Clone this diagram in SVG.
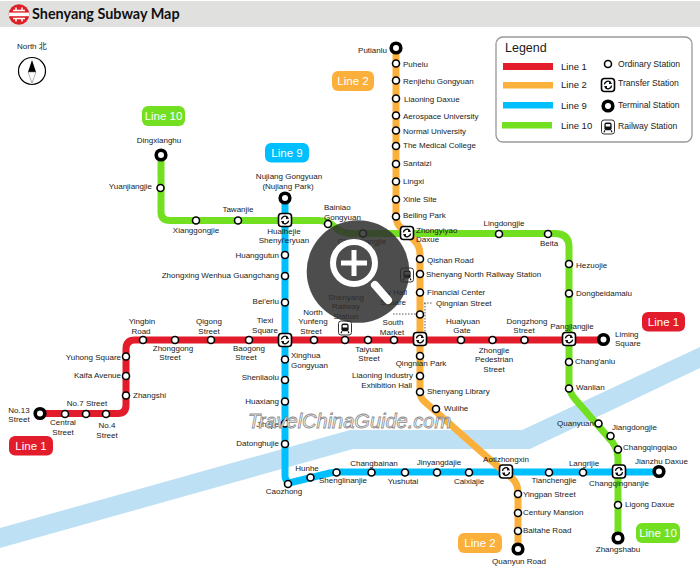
<svg xmlns="http://www.w3.org/2000/svg" width="700" height="572" viewBox="0 0 700 572">
<style>
text{font-family:"Liberation Sans",Arial,sans-serif;font-size:8px;fill:#1a1a1a}
.m{text-anchor:middle}.e{text-anchor:end}
.ln{fill:none;stroke-width:7;stroke-linejoin:round}
.st{fill:#fff;stroke:#000;stroke-width:1.6}
.tm{fill:#fff;stroke:#000;stroke-width:3.6}
.pill{font-size:11.5px;fill:#fff;text-anchor:middle}
.lg{font-size:9.5px}
.k{font-size:8.6px}
.red{stroke:#e21c2a}.org{stroke:#fbb03b}.blu{stroke:#00bfff}.grn{stroke:#72e021}
</style>
<defs>
<g id="xf"><rect x="-6.5" y="-6.5" width="13" height="13" rx="3" fill="#fff" stroke="#000" stroke-width="1.6"/><path d="M-3.6,-0.6A3.6,3.6 0 0 1 2.8,-2.4M3.6,0.6A3.6,3.6 0 0 1 -2.8,2.4" fill="none" stroke="#000" stroke-width="1.3"/><path d="M1.4,-4.2L4.2,-1.2L1,-0.9ZM-1.4,4.2L-4.2,1.2L-1,0.9Z" fill="#000"/></g>
<g id="rw"><rect x="-6.5" y="-7" width="13" height="14" rx="2.5" fill="#fff" stroke="#333" stroke-width="1"/><rect x="-3.6" y="-4.6" width="7.2" height="7.8" rx="2" fill="#111"/><rect x="-2.3" y="-2.9" width="4.6" height="2.4" fill="#fff"/><path d="M-3,3.2L-4,5.2M3,3.2L4,5.2" stroke="#111" stroke-width="1.2"/></g>
</defs>
<rect width="700" height="572" fill="#fff"/>
<rect id="header" y="1" width="700" height="26" fill="#e0e0de"/>
<g id="logo"><circle cx="19" cy="14.5" r="10.3" fill="#dd1f26"/><rect x="9" y="12.6" width="20" height="3.6" fill="#fff"/><path d="M13,10.5H25M16,7.5V11M22,7.5V11M13,18.5H25M16,18V21.5M22,18V21.5" stroke="#fff" stroke-width="1.5" fill="none"/></g>
<text id="title" x="32" y="19" style="font-family:Lato,'Liberation Sans',sans-serif;font-weight:700;font-size:14.4px;fill:#111">Shenyang Subway Map</text>
<text id="north" x="17" y="49" style="font-family:'Liberation Sans','Noto Sans CJK SC',sans-serif">North 北</text>
<g id="compass"><circle cx="32" cy="71" r="13.500" fill="#fff" stroke="#000" stroke-width="1.200"/><path d="M32,60L36,72H28Z" fill="#000"/><path d="M28,72H36L32,83Z" fill="#fff" stroke="#777" stroke-width=".6"/></g>
<polygon id="river" points="0,528 350,430 522,430 700,347 700,368 530,449 353,449 0,548" fill="#bde0f5"/>
<g id="connectors">
<path id="line9" class="ln blu" d="M285,198V475Q285,484 293,482L330,473Q334,472 340,472H659"/>
<path id="line10" class="ln grn" d="M161,155V212Q161,220.500 170,220.500H318Q328,220.500 335,227Q341,233.500 352,233.500H555Q569,233.500 569,247V385Q569,392 575,399L608,437Q618,447 618,458V538"/>
<path id="line2" class="ln org" d="M396,48V216Q396,224 402,229L414,240Q420,246 420,254V392Q420,398 425,402L495,464Q506,473 512,478Q518,484 518,492V549"/>
<path id="line1" class="ln red" d="M40,413.500H118Q126,413.500 126,405V349Q126,340 135,340H603"/>
<path d="M424,303H433M425,303V335M393,314H417" fill="none" stroke="#444" stroke-width=".9" stroke-dasharray="1.500 1.500"/>
</g>
<g id="line-labels">
<g id="pill-2a"><rect x="332" y="71" width="42" height="20" rx="6" fill="#fbb03b"/><text class="pill" x="353" y="85">Line 2</text></g>
<g id="pill-10a"><rect x="142" y="106" width="43" height="20" rx="6" fill="#72e021"/><text class="pill" x="163.500" y="120">Line 10</text></g>
<g id="pill-9"><rect x="265" y="143" width="44" height="19.500" rx="6" fill="#00bfff"/><text class="pill" x="287" y="157">Line 9</text></g>
<g id="pill-1a"><rect x="642" y="312" width="43" height="19.500" rx="6" fill="#e21c2a"/><text class="pill" x="663.500" y="326">Line 1</text></g>
<g id="pill-1b"><rect x="9" y="436" width="44" height="19.500" rx="6" fill="#e21c2a"/><text class="pill" x="31" y="450">Line 1</text></g>
<g id="pill-2b"><rect x="458" y="533" width="44" height="20" rx="6" fill="#fbb03b"/><text class="pill" x="480" y="547">Line 2</text></g>
<g id="pill-10b"><rect x="636" y="523" width="44" height="20" rx="6" fill="#72e021"/><text class="pill" x="658" y="537">Line 10</text></g>
</g>
<g id="legend">
<rect x="496" y="37" width="196" height="105" rx="7" fill="#fff" stroke="#999" stroke-width="1.300"/>
<text x="505" y="52" style="font-size:12.500px">Legend</text>
<rect x="503" y="63" width="50" height="7" fill="#e21c2a"/><text class="lg" x="561" y="70">Line 1</text>
<rect x="503" y="82" width="50" height="6.500" fill="#fbb03b"/><text class="lg" x="561" y="88">Line 2</text>
<rect x="503" y="102" width="50" height="6.500" fill="#00bfff"/><text class="lg" x="561" y="109">Line 9</text>
<rect x="502" y="122" width="50" height="6.500" fill="#72e021"/><text class="lg" x="561" y="129">Line 10</text>
<circle class="st" cx="608" cy="64" r="3.500"/><text class="k" x="618" y="67">Ordinary Station</text>
<use href="#xf" x="608" y="85"/><text class="k" x="618" y="86">Transfer Station</text>
<circle class="tm" cx="608" cy="106" r="4.800"/><text class="k" x="618" y="108">Terminal Station</text>
<use href="#rw" x="608" y="127"/><text class="k" x="618" y="129">Railway Station</text>
</g>
<g id="stations">
<g id="s-dingxianghu"><circle class="tm" cx="161" cy="155" r="4.800"/><text class="m" x="159" y="143">Dingxianghu</text></g>
<g id="s-yuanjiangjie"><circle class="st" cx="160.500" cy="188" r="3.500"/><text class="e" x="152" y="189">Yuanjiangjie</text></g>
<g id="s-xianggongjie"><circle class="st" cx="196" cy="220.500" r="3.500"/><text class="m" x="196" y="233">Xianggongjie</text></g>
<g id="s-tawanjie"><circle class="st" cx="238" cy="220.500" r="3.500"/><text class="m" x="238" y="212">Tawanjie</text></g>
<g id="s-nujiang"><circle class="tm" cx="285" cy="198" r="4.800"/><text class="m" x="289" y="179">Nujiang Gongyuan</text><text class="m" x="288" y="189">(Nujiang Park)</text></g>
<g id="s-bainiao"><circle class="st" cx="328" cy="224" r="3.500"/><text x="324" y="210">Bainiao</text><text x="324" y="220">Gongyuan</text></g>
<g id="s-changjiangjie"><circle class="st" cx="363" cy="233.500" r="3.500"/><text class="m" x="362" y="244">Changjiangjie</text></g>
<g id="s-lingdongjie"><circle class="st" cx="499" cy="234" r="3.500"/><text class="m" x="504" y="226">Lingdongjie</text></g>
<g id="s-beita"><circle class="st" cx="548" cy="234" r="3.500"/><text class="m" x="549" y="246">Beita</text></g>
<g id="s-hezuojie"><circle class="st" cx="569" cy="264" r="3.500"/><text x="576" y="268">Hezuojie</text></g>
<g id="s-dongbeidamalu"><circle class="st" cx="569" cy="293.500" r="3.500"/><text x="576" y="296">Dongbeidamalu</text></g>
<g id="s-changanlu"><circle class="st" cx="569" cy="362" r="3.500"/><text x="575" y="364">Chang'anlu</text></g>
<g id="s-wanlian"><circle class="st" cx="569" cy="388.500" r="3.500"/><text x="576" y="390">Wanlian</text></g>
<g id="s-quanyuan"><circle class="st" cx="598.500" cy="423.500" r="3.500"/><text class="e" x="594" y="426">Quanyuan</text></g>
<g id="s-jiangdongjie"><circle class="st" cx="610.500" cy="436" r="3.500"/><text x="612" y="430">Jiangdongjie</text></g>
<g id="s-changqingqiao"><circle class="st" cx="618" cy="449.500" r="3.500"/><text x="623" y="450">Changqingqiao</text></g>
<g id="s-ligong"><circle class="st" cx="618" cy="505" r="3.500"/><text x="625" y="507">Ligong Daxue</text></g>
<g id="s-zhangshabu"><circle class="tm" cx="618" cy="538" r="4.800"/><text class="m" x="618" y="552">Zhangshabu</text></g>
<g id="s-putianlu"><circle class="tm" cx="396" cy="48" r="4.800"/><text class="e" x="387" y="53">Putianlu</text></g>
<g id="s-puhelu"><circle class="st" cx="396" cy="63.500" r="3.500"/><text x="403" y="67">Puhelu</text></g>
<g id="s-renjiehu"><circle class="st" cx="396" cy="80.500" r="3.500"/><text x="403" y="84">Renjiehu Gongyuan</text></g>
<g id="s-liaoningdaxue"><circle class="st" cx="396" cy="98.500" r="3.500"/><text x="404" y="102">Liaoning Daxue</text></g>
<g id="s-aerospace"><circle class="st" cx="396" cy="115.500" r="3.500"/><text x="403" y="119">Aerospace University</text></g>
<g id="s-normal"><circle class="st" cx="396" cy="130.500" r="3.500"/><text x="403" y="134">Normal University</text></g>
<g id="s-medical"><circle class="st" cx="396" cy="146" r="3.500"/><text x="403" y="148">The Medical College</text></g>
<g id="s-santaizi"><circle class="st" cx="396" cy="164" r="3.500"/><text x="403" y="166">Santaizi</text></g>
<g id="s-lingxi"><circle class="st" cx="396" cy="181.500" r="3.500"/><text x="403" y="184">Lingxi</text></g>
<g id="s-xinle"><circle class="st" cx="396" cy="199.500" r="3.500"/><text x="403" y="202">Xinle Site</text></g>
<g id="s-beiling"><circle class="st" cx="396" cy="216.500" r="3.500"/><text x="403" y="218">Beiling Park</text></g>
<g id="s-qishan"><circle class="st" cx="420" cy="259" r="3.500"/><text x="427" y="263">Qishan Road</text></g>
<g id="s-shenyangnorth"><circle class="st" cx="420" cy="274" r="3.500"/><use href="#rw" x="407" y="275"/><text x="426" y="277">Shenyang North Railway Station</text></g>
<g id="s-financial"><circle class="st" cx="420" cy="292.500" r="3.500"/><text x="427" y="295">Financial Center</text></g>
<g id="s-qingnianst"><circle class="st" cx="420" cy="314.500" r="3.500"/><text x="436" y="306">Qingnian Street</text></g>
<g id="s-cityhall"><text class="e" x="407" y="295">City Hall</text><text class="e" x="406" y="305">Square</text></g>
<g id="s-qingnianpark"><circle class="st" cx="420" cy="356" r="3.500"/><text class="m" x="421" y="366">Qingnian Park</text></g>
<g id="s-liaoningind"><circle class="st" cx="420" cy="376" r="3.500"/><text class="e" x="413" y="378">Liaoning Industry</text><text class="e" x="412" y="388">Exhibition Hall</text></g>
<g id="s-library"><circle class="st" cx="420" cy="392" r="3.500"/><text x="427" y="394">Shenyang Library</text></g>
<g id="s-wulihe"><circle class="st" cx="436" cy="409" r="3.500"/><text x="444" y="411">Wulihe</text></g>
<g id="s-yingpan"><circle class="st" cx="518" cy="494" r="3.500"/><text x="523" y="497">Yingpan Street</text></g>
<g id="s-century"><circle class="st" cx="518" cy="513" r="3.500"/><text x="523" y="515">Century Mansion</text></g>
<g id="s-baitahe"><circle class="st" cx="518" cy="531" r="3.500"/><text x="523" y="533">Baitahe Road</text></g>
<g id="s-quanyun"><circle class="tm" cx="518" cy="549" r="4.800"/><text class="m" x="519" y="564">Quanyun Road</text></g>
<g id="s-huanggutun"><circle class="st" cx="285" cy="255" r="3.500"/><text class="e" x="279" y="258">Huanggutun</text></g>
<g id="s-zhongxing"><circle class="st" cx="285" cy="276" r="3.500"/><text class="e" x="279" y="278">Zhongxing Wenhua Guangchang</text></g>
<g id="s-beierlu"><circle class="st" cx="285" cy="302.500" r="3.500"/><text class="e" x="279" y="304">Bei'erlu</text></g>
<g id="s-xinghua"><circle class="st" cx="285" cy="359.500" r="3.500"/><text x="291" y="358">Xinghua</text><text x="291" y="368">Gongyuan</text></g>
<g id="s-shenliaolu"><circle class="st" cx="285" cy="380" r="3.500"/><text class="e" x="279" y="380">Shenliaolu</text></g>
<g id="s-huaxiang"><circle class="st" cx="285" cy="401.500" r="3.500"/><text class="e" x="279" y="404">Huaxiang</text></g>
<g id="s-jihejie"><circle class="st" cx="285" cy="423.500" r="3.500"/><text class="e" x="279" y="427">Jihejie</text></g>
<g id="s-datonghujie"><circle class="st" cx="285" cy="444" r="3.500"/><text class="e" x="279" y="446">Datonghujie</text></g>
<g id="s-caozhong"><circle class="st" cx="288" cy="484" r="3.500"/><text class="m" x="284" y="494">Caozhong</text></g>
<g id="s-hunhe"><circle class="st" cx="310.500" cy="477.500" r="3.500"/><text class="m" x="307" y="471">Hunhe</text></g>
<g id="s-shenglinanjie"><circle class="st" cx="336.500" cy="472.500" r="3.500"/><text x="319" y="483">Shenglinanjie</text></g>
<g id="s-changbainan"><circle class="st" cx="371.500" cy="472.500" r="3.500"/><text class="m" x="374" y="466">Changbainan</text></g>
<g id="s-yushutai"><circle class="st" cx="405" cy="472.500" r="3.500"/><text class="m" x="403" y="484">Yushutai</text></g>
<g id="s-jinyangdajie"><circle class="st" cx="437" cy="472.500" r="3.500"/><text class="m" x="439" y="465">Jinyangdajie</text></g>
<g id="s-caixiajie"><circle class="st" cx="469" cy="472.500" r="3.500"/><text class="m" x="469" y="484">Caixiajie</text></g>
<g id="s-tianchengjie"><circle class="st" cx="549" cy="472.500" r="3.500"/><text class="m" x="554" y="483">Tianchengjie</text></g>
<g id="s-langrijie"><circle class="st" cx="583" cy="472.500" r="3.500"/><text class="m" x="584" y="466">Langrijie</text></g>
<g id="s-jianzhu"><circle class="tm" cx="659" cy="471.500" r="4.800"/><text x="635" y="464">Jianzhu Daxue</text></g>
<g id="s-no13"><circle class="tm" cx="40" cy="413.500" r="4.800"/><text class="m" x="19" y="413">No.13</text><text class="m" x="19" y="422">Street</text></g>
<g id="s-central"><circle class="st" cx="65" cy="414" r="3.500"/><text class="m" x="63" y="425">Central</text><text class="m" x="63" y="435">Street</text></g>
<g id="s-no7"><circle class="st" cx="86" cy="414" r="3.500"/><text class="m" x="87" y="406">No.7 Street</text></g>
<g id="s-no4"><circle class="st" cx="106" cy="414" r="3.500"/><text class="m" x="107" y="428">No.4</text><text class="m" x="107" y="438">Street</text></g>
<g id="s-zhangshi"><circle class="st" cx="126" cy="395.500" r="3.500"/><text x="133" y="398">Zhangshi</text></g>
<g id="s-kaifa"><circle class="st" cx="126" cy="376" r="3.500"/><text class="e" x="121" y="378">Kaifa Avenue</text></g>
<g id="s-yuhong"><circle class="st" cx="126" cy="356.500" r="3.500"/><text class="e" x="121" y="360">Yuhong Square</text></g>
<g id="s-yingbin"><circle class="st" cx="143" cy="340" r="3.500"/><text class="m" x="142" y="324">Yingbin</text><text class="m" x="141" y="334">Road</text></g>
<g id="s-zhonggong"><circle class="st" cx="175" cy="340" r="3.500"/><text class="m" x="173" y="351">Zhonggong</text><text class="m" x="170" y="360">Street</text></g>
<g id="s-qigong"><circle class="st" cx="211" cy="340" r="3.500"/><text class="m" x="209" y="324">Qigong</text><text class="m" x="209" y="334">Street</text></g>
<g id="s-baogong"><circle class="st" cx="249" cy="340" r="3.500"/><text class="m" x="249" y="351">Baogong</text><text class="m" x="246" y="360">Street</text></g>
<g id="s-yunfeng"><circle class="st" cx="314" cy="340" r="3.500"/><text class="m" x="313" y="315">North</text><text class="m" x="313" y="324">Yunfeng</text><text class="m" x="311" y="334">Street</text></g>
<g id="s-railway"><circle class="st" cx="345" cy="340" r="3.500"/><use href="#rw" x="345" y="328"/><text class="m" x="346" y="300">Shenyang</text><text class="m" x="346" y="309">Railway</text><text class="m" x="346" y="319">Station</text></g>
<g id="s-taiyuan"><circle class="st" cx="368" cy="340" r="3.500"/><text class="m" x="369" y="352">Taiyuan</text><text class="m" x="369" y="361">Street</text></g>
<g id="s-south"><circle class="st" cx="394" cy="340" r="3.500"/><text class="m" x="393" y="325">South</text><text class="m" x="392" y="335">Market</text></g>
<g id="s-huaiyuan"><circle class="st" cx="461" cy="340" r="3.500"/><text class="m" x="463" y="324">Huaiyuan</text><text class="m" x="462" y="333">Gate</text></g>
<g id="s-zhongjie"><circle class="st" cx="492.500" cy="340" r="3.500"/><text class="m" x="494" y="353">Zhongjie</text><text class="m" x="494" y="362">Pedestrian</text><text class="m" x="494" y="372">Street</text></g>
<g id="s-dongzhong"><circle class="st" cx="524.500" cy="340" r="3.500"/><text class="m" x="527" y="324">Dongzhong</text><text class="m" x="524" y="333">Street</text></g>
<g id="s-liming"><circle class="tm" cx="603.500" cy="339.500" r="4.800"/><text x="615" y="337">Liming</text><text x="615" y="346">Square</text></g>
<g id="x-huaihejie"><use href="#xf" x="285" y="220"/><text class="m" x="284" y="234">Huaihejie</text><text class="m" x="284" y="243">Shenyi'eryuan</text></g>
<g id="x-tiexi"><use href="#xf" x="285" y="340"/><text class="m" x="265" y="323">Tiexi</text><text class="m" x="265" y="333">Square</text></g>
<g id="x-zhongyiyao"><use href="#xf" x="407" y="233"/><text x="416" y="233">Zhongyiyao</text><text x="416" y="242">Daxue</text></g>
<g id="x-qingnian"><use href="#xf" x="420" y="339"/></g>
<g id="x-pangjiangjie"><use href="#xf" x="569" y="339"/><text class="m" x="572" y="329">Pangjiangjie</text></g>
<g id="x-aoti"><use href="#xf" x="506" y="471.500"/><text class="m" x="506" y="462">Aotizhongxin</text></g>
<g id="x-changqingnanjie"><use href="#xf" x="619" y="471.500"/><text class="m" x="619" y="486">Changqingnanjie</text></g>
</g>
<text id="watermark" x="248" y="428" style="font-family:'Liberation Sans',sans-serif;font-style:italic;font-size:20px;fill:#fff;stroke:#8a8a8a;stroke-width:.8">TravelChinaGuide.com</text>
<g id="zoom-overlay">
<circle cx="358" cy="271.500" r="51.300" fill="#2e2e2e" fill-opacity=".85"/>
<circle cx="354" cy="263" r="21" fill="none" stroke="#fff" stroke-width="6"/>
<path d="M341,263H367M354,250V276" stroke="#fff" stroke-width="5" fill="none"/>
<path d="M375,285L388,300" stroke="#fff" stroke-width="8" stroke-linecap="round" fill="none"/>
</g>
</svg>
